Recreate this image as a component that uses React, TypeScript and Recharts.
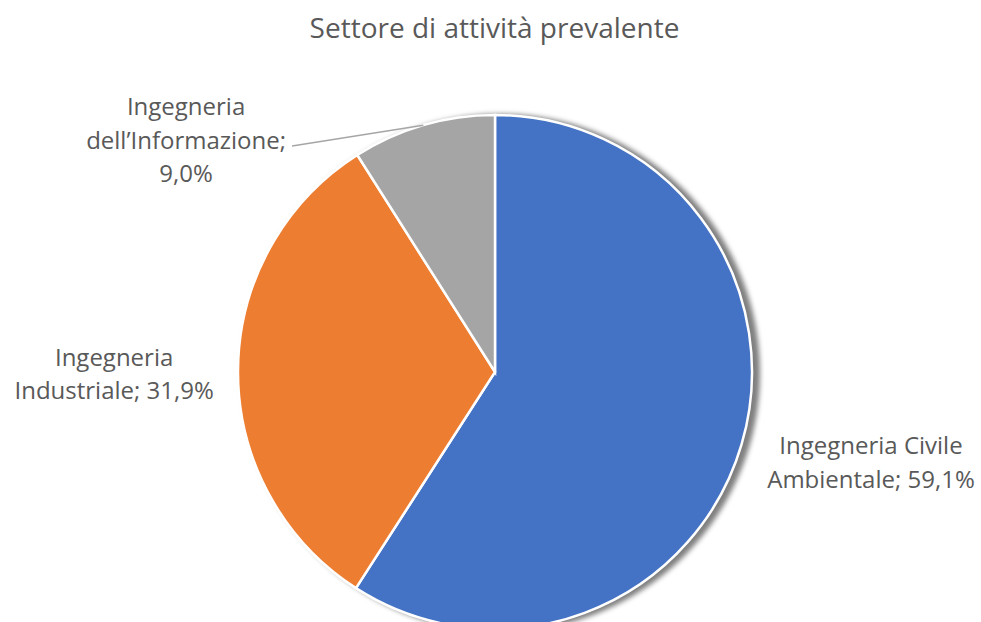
import { PieChart, Pie, Cell } from 'recharts'

const sectors = ['Ingegneria Civile Ambientale', 'Ingegneria Industriale', 'Ingegneria dell’Informazione']
const shares = [59.1, 31.9, 9.0]
const labelLines = [
  ['Ingegneria Civile', 'Ambientale; 59,1%'],
  ['Ingegneria', 'Industriale; 31,9%'],
  ['Ingegneria', 'dell’Informazione;', '9,0%'],
]
const colors = ['#4472C4', '#ED7D31', '#A5A5A5']

const data = sectors.map((name, i) => ({ name, value: shares[i] }))
const shadowData = [{ name: 'shadow', value: 1 }]

const RAD = Math.PI / 180
const FONT = '"Open Sans", sans-serif'

// Excel "best fit" label spots, in units of the outer radius
const labelSpots = [
  [1.463, 0.346],
  [-1.482, 0.002],
  [-1.202, -0.907],
]

function renderLabel(props: any) {
  const { cx, cy, midAngle, outerRadius, index } = props
  const lines = labelLines[index]
  const x = cx + outerRadius * labelSpots[index][0]
  const y = cy + outerRadius * labelSpots[index][1]
  let leader = null
  if (index === 2) {
    const sx = cx + outerRadius * Math.cos(-midAngle * RAD)
    const sy = cy + outerRadius * Math.sin(-midAngle * RAD)
    leader = (
      <polyline
        points={`${sx},${sy} ${x + 106},${y + 7}`}
        fill="none"
        stroke="#a6a6a6"
        strokeWidth={1.5}
      />
    )
  }
  const lh = 33.5
  const y0 = y - ((lines.length - 1) * lh) / 2
  return (
    <g>
      {leader}
      <text x={x} y={y0} textAnchor="middle" dominantBaseline="central" fill="#595959" fontSize={24} fontFamily={FONT}>
        {lines.map((l, i) => (
          <tspan key={i} x={x} y={y0 + i * lh}>
            {l}
          </tspan>
        ))}
      </text>
    </g>
  )
}

export default function App() {
  return (
    <div style={{ position: 'absolute', left: 0, top: 0, width: 981, height: 622, background: '#fff', overflow: 'hidden' }}>
      <div
        style={{
          position: 'absolute',
          top: 7,
          left: 0,
          width: 989,
          lineHeight: '40px',
          textAlign: 'center',
          fontFamily: FONT,
          fontSize: 28,
          color: '#595959',
        }}
      >
        Settore di attività prevalente
      </div>
      <PieChart width={981} height={622} margin={{ top: 0, right: 0, bottom: 0, left: 0 }}>
        <Pie
          data={shadowData}
          dataKey="value"
          cx={501}
          cy={373}
          outerRadius={259}
          startAngle={90}
          endAngle={-270}
          stroke="none"
          isAnimationActive={false}
        >
          <Cell fill="#000000" fillOpacity={0.5} style={{ filter: 'blur(2.5px)' }} />
        </Pie>
        <Pie
          data={data}
          dataKey="value"
          nameKey="name"
          cx={495}
          cy={372}
          outerRadius={257}
          startAngle={90}
          endAngle={-270}
          stroke="#ffffff"
          strokeWidth={2.5}
          label={renderLabel}
          labelLine={false}
          isAnimationActive={false}
        >
          {data.map((d, i) => (
            <Cell key={d.name} fill={colors[i]} />
          ))}
        </Pie>
      </PieChart>
    </div>
  )
}
